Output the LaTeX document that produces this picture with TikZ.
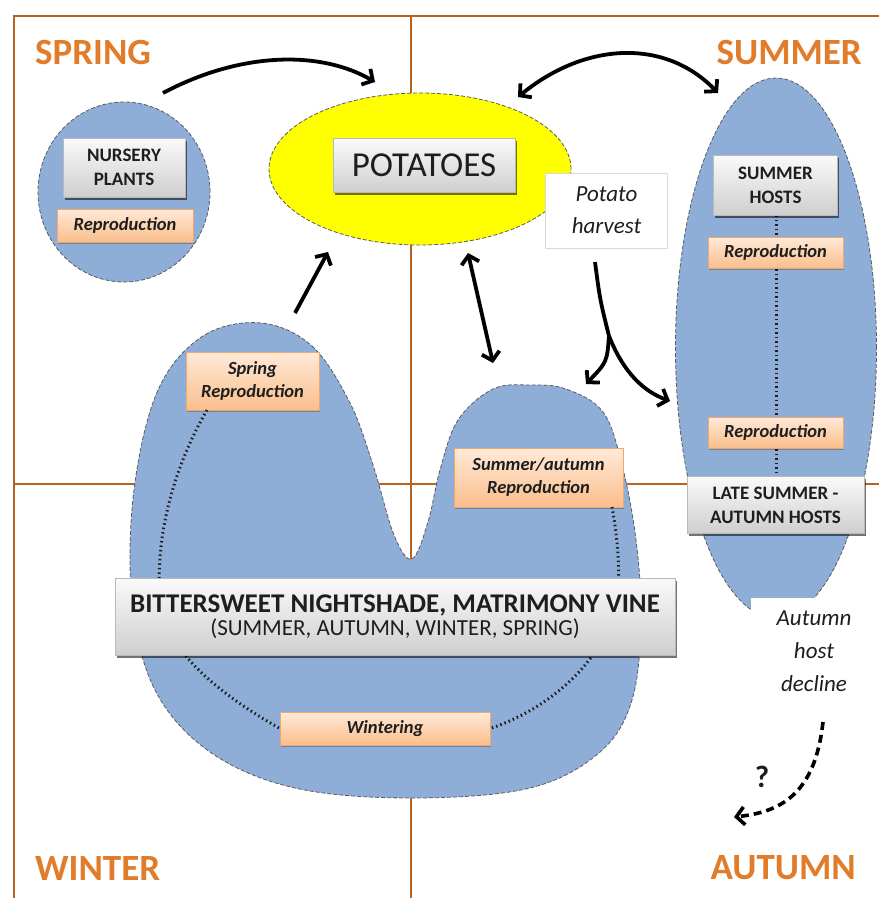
\documentclass[tikz,border=0pt]{standalone}
\usepackage{fontspec}
\setmainfont{Carlito}
\usetikzlibrary{arrows.meta,shapes.geometric,shadows}
\definecolor{framebrown}{RGB}{184,98,32}
\definecolor{seasonorange}{RGB}{224,124,42}
\definecolor{blobblue}{RGB}{143,174,215}
\definecolor{potyellow}{RGB}{255,255,0}
\definecolor{peachtop}{RGB}{255,234,216}
\definecolor{peachbot}{RGB}{250,190,140}
\definecolor{peachedge}{RGB}{238,168,108}
\definecolor{txtdark}{RGB}{30,30,30}
\definecolor{edgegray}{RGB}{90,90,100}
\begin{document}
\begin{tikzpicture}[x=1pt,y=-1pt,
  season/.style={text=seasonorange,font=\fontsize{37}{40}\selectfont\bfseries,inner sep=0pt},
  graybox/.style={draw=gray!55, top color=gray!4, bottom color=gray!38, align=center, text=txtdark, inner sep=0pt,
    drop shadow={shadow xshift=1.5pt,shadow yshift=-2.5pt,fill=black,opacity=0.55}},
  peachbox/.style={draw=peachedge, top color=peachtop, bottom color=peachbot, align=center, text=txtdark,
    font=\fontsize{18.5}{23}\selectfont\bfseries\itshape, inner sep=0pt,
    drop shadow={shadow xshift=1pt,shadow yshift=-1.5pt,fill=black,opacity=0.25}},
  bluearea/.style={fill=blobblue, draw=edgegray, dash pattern=on 4pt off 2pt, line width=0.8pt},
  tipa/.tip={Straight Barb[length=8pt,width=18pt]},
  arr/.style={line width=3.8pt, -tipa},
  darr/.style={line width=3.8pt, tipa-tipa},
  dotline/.style={line width=3pt, dash pattern=on 1.5pt off 3pt, draw=txtdark},
  seasonline/.style={draw=framebrown, line width=2.8pt}
]
\useasboundingbox (0,0) rectangle (879,898);
% frame and season quarters
\draw[seasonline] (14,898) -- (14,16) -- (879,16);
\draw[seasonline] (411,16) -- (411,898);
\draw[seasonline] (14,484) -- (879,484);
\node[season, anchor=west] (spring) at (35,52) {SPRING};
\node[season, anchor=east] (summer) at (862,52) {SUMMER};
\node[season, anchor=west] (winter) at (35,868) {WINTER};
\node[season, anchor=east] (autumn) at (856,868) {AUTUMN};

% nursery
\node[ellipse, bluearea, minimum width=172pt, minimum height=180pt, inner sep=0pt] (nurserycirc) at (124,192) {};
\node[graybox, minimum width=122pt, minimum height=59pt, font=\fontsize{19}{24}\selectfont\bfseries] (nursery) at (124,167.5) {NURSERY\\PLANTS};
\node[peachbox, minimum width=136pt, minimum height=33pt] (nurseryrep) at (125,225.5) {Reproduction};

% potatoes
\node[ellipse, fill=potyellow, draw=edgegray, dash pattern=on 4pt off 2pt, line width=0.8pt, minimum width=302pt, minimum height=152pt, inner sep=0pt] (potato) at (420,169) {};
\node[graybox, minimum width=182pt, minimum height=54pt, font=\fontsize{35}{40}\selectfont] (potatoes) at (424,165.5) {POTATOES};
\node[fill=white, draw=gray!30, line width=1pt, minimum width=122pt, minimum height=75pt, inner sep=0pt, align=center,
  font=\fontsize{23}{32}\selectfont\itshape, text=txtdark] (harvest) at (606.5,210.5) {Potato\\harvest};

% summer hosts
\node[ellipse, bluearea, minimum width=201pt, minimum height=540pt, inner sep=0pt] (summerell) at (776,348) {};
\draw[dotline] (776,215) -- (776,477);
\node[graybox, minimum width=124pt, minimum height=60pt, font=\fontsize{19}{24}\selectfont\bfseries] (summerhosts) at (775.5,185) {SUMMER\\HOSTS};
\node[peachbox, minimum width=135pt, minimum height=31pt] (rep1) at (775.5,252.5) {Reproduction};
\node[peachbox, minimum width=135pt, minimum height=31pt] (rep2) at (775.5,432.5) {Reproduction};
\node[graybox, minimum width=177pt, minimum height=57pt, font=\fontsize{19}{24}\selectfont\bfseries] (late) at (775.5,505) {LATE SUMMER -\\AUTUMN HOSTS};
\node[fill=white, minimum width=126pt, minimum height=107pt, inner sep=0pt, align=center,
  font=\fontsize{23}{33}\selectfont\itshape, text=txtdark] (decline) at (814,651.5) {Autumn\\host\\decline};

% bittersweet blob
\path[bluearea] plot[smooth cycle, tension=0.6] coordinates {
 (261,323) (312,346) (350,403) (373,465) (394,535) (412,559) (428,522) (440,470) (458,420)
 (493,389) (530,385) (566,389) (603,412) (622,465) (636,540) (641,620) (632,700) (600,752)
 (530,788) (412,798) (295,788) (210,752) (155,690) (132,600) (134,490) (158,390) (203,336)};
\coordinate (sdot1) at (207,410);
\coordinate (sdot2) at (160,600);
\coordinate (rdot1) at (612,507);
\coordinate (rdot2) at (616,605);
\node[peachbox, minimum width=133pt, minimum height=58pt] (springrep) at (252.5,381) {Spring\\Reproduction};
\node[peachbox, minimum width=169pt, minimum height=59pt] (summerrep) at (538.5,477.5) {Summer/autumn\\Reproduction};
\node[peachbox, minimum width=210pt, minimum height=33pt] (wintering) at (385,728.5) {Wintering};
\draw[dotline] (sdot1) .. controls (172,470) and (155,540) .. (sdot2) .. controls (165,655) and (230,700) .. (wintering.west);
\draw[dotline] (rdot1) .. controls (618,540) and (621,575) .. (rdot2) .. controls (600,670) and (540,712) .. (wintering.east);
\node[graybox, minimum width=560pt, minimum height=77pt, align=center] (bitter) at (395,616.5)
  {{\fontsize{27}{32}\selectfont\bfseries BITTERSWEET NIGHTSHADE, MATRIMONY VINE}\\[1pt]{\fontsize{23}{28}\selectfont (SUMMER, AUTUMN, WINTER, SPRING)}};

% arrows
\coordinate (a1s) at (163,93);
\coordinate (a1e) at (375,82);
\draw[arr] (a1s) .. controls (240,52) and (320,50) .. (a1e);
\coordinate (a2s) at (518,97);
\coordinate (a2e) at (718,93);
\draw[darr] (a2s) .. controls (585,42) and (665,38) .. (a2e);
\coordinate (a3s) at (295,313);
\coordinate (a3e) at (328,252);
\draw[arr] (a3s) -- (a3e);
\coordinate (a4s) at (468,253);
\coordinate (a4e) at (493,363);
\draw[darr] (a4s) -- (a4e);
\coordinate (hs) at (595,262);
\coordinate (hj) at (609,336);
\coordinate (he1) at (586,384);
\coordinate (he2) at (670,401);
\draw[line width=3.8pt] (hs) .. controls (600,300) .. (hj);
\draw[arr] (hj) .. controls (607,362) .. (he1);
\draw[arr] (hj) .. controls (624,374) and (645,392) .. (he2);
\coordinate (ds) at (823,722);
\coordinate (de) at (734,817);
\draw[line width=3.6pt, dash pattern=on 8pt off 5pt, -tipa] (ds) .. controls (815,795) and (780,812) .. (de);
\node[font=\fontsize{31}{34}\selectfont\bfseries, text=txtdark, inner sep=0pt] (qm) at (762,777) {?};
\end{tikzpicture}
\end{document}
